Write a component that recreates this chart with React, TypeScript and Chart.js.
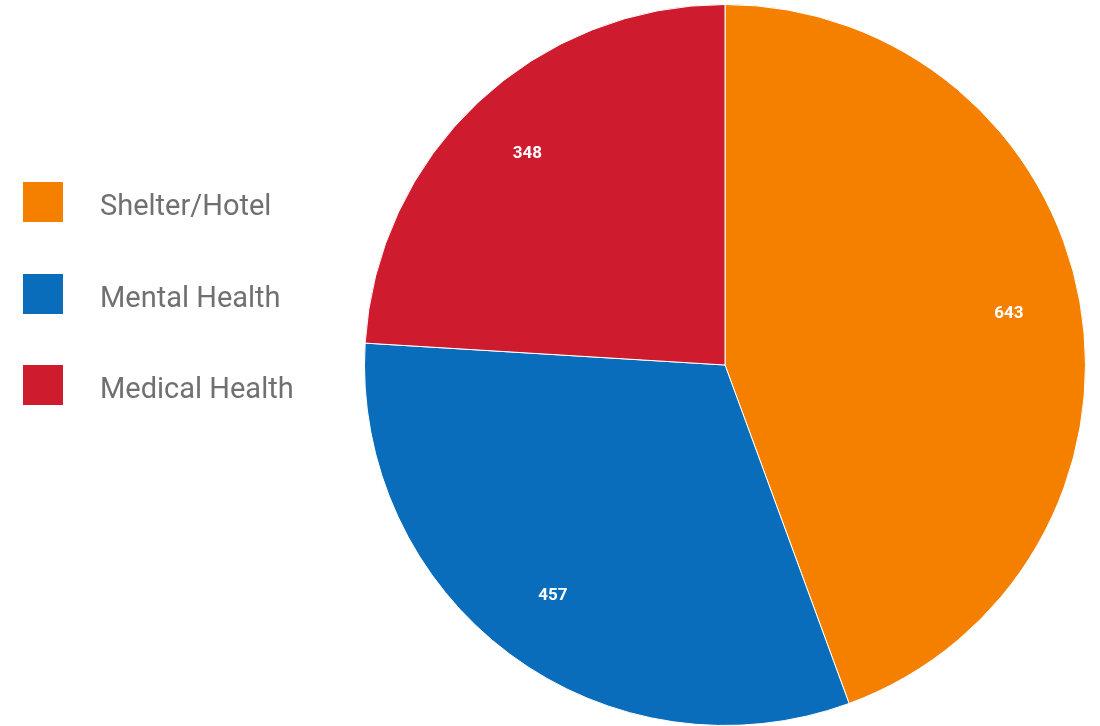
import React, { useEffect, useRef } from "react";
import { Chart, registerables } from "chart.js";

Chart.register(...registerables);

const categories = ["Shelter/Hotel", "Mental Health", "Medical Health"];
const values = [643, 457, 348];
const colors = ["#F58000", "#0A6DBB", "#CE1C2E"];

const labelPlugin = {
  id: "sliceLabels",
  afterDatasetsDraw(chart: any) {
    const ctx = chart.ctx;
    const meta = chart.getDatasetMeta(0);
    ctx.save();
    ctx.fillStyle = "#ffffff";
    ctx.font = "bold 17px Roboto, 'Open Sans', sans-serif";
    ctx.textAlign = "center";
    ctx.textBaseline = "middle";
    meta.data.forEach((arc: any, i: number) => {
      const p = arc.getProps(["x", "y", "startAngle", "endAngle", "outerRadius"], true);
      const mid = (p.startAngle + p.endAngle) / 2;
      const r = p.outerRadius * 0.8;
      ctx.fillText(String(values[i]), p.x + Math.cos(mid) * r, p.y + Math.sin(mid) * r - 1);
    });
    ctx.restore();
  },
};

export default function App() {
  const ref = useRef<HTMLCanvasElement>(null);
  useEffect(() => {
    document.body.style.margin = "0";
    const chart = new Chart(ref.current!, {
      type: "pie",
      data: {
        labels: categories,
        datasets: [
          {
            data: values,
            backgroundColor: colors,
            borderColor: "#ffffff",
            borderWidth: 1,
          },
        ],
      },
      options: {
        animation: false,
        responsive: false,
        layout: { padding: { left: 364, right: 14, top: 4, bottom: 0 } },
        plugins: {
          legend: { display: false },
          tooltip: { enabled: false },
        },
      },
      plugins: [labelPlugin],
    });
    return () => chart.destroy();
  }, []);

  return (
    <div style={{ position: "relative", width: 1100, height: 726, background: "#fff" }}>
      <canvas ref={ref} width={1100} height={726} style={{ position: "absolute", left: 0, top: 0 }} />
      {categories.map((c, i) => (
        <div
          key={c}
          style={{
            position: "absolute",
            left: 23,
            top: 182 + i * 91.5,
            height: 40,
            display: "flex",
            alignItems: "center",
          }}
        >
          <div style={{ width: 40, height: 40, background: colors[i], flexShrink: 0 }} />
          <span
            style={{
              marginLeft: 37,
              fontFamily: "Roboto, 'Open Sans', sans-serif",
              fontSize: 29,
              lineHeight: "40px",
              color: "#707070",
              whiteSpace: "nowrap",
              position: "relative",
              top: 3,
            }}
          >
            {c}
          </span>
        </div>
      ))}
    </div>
  );
}
